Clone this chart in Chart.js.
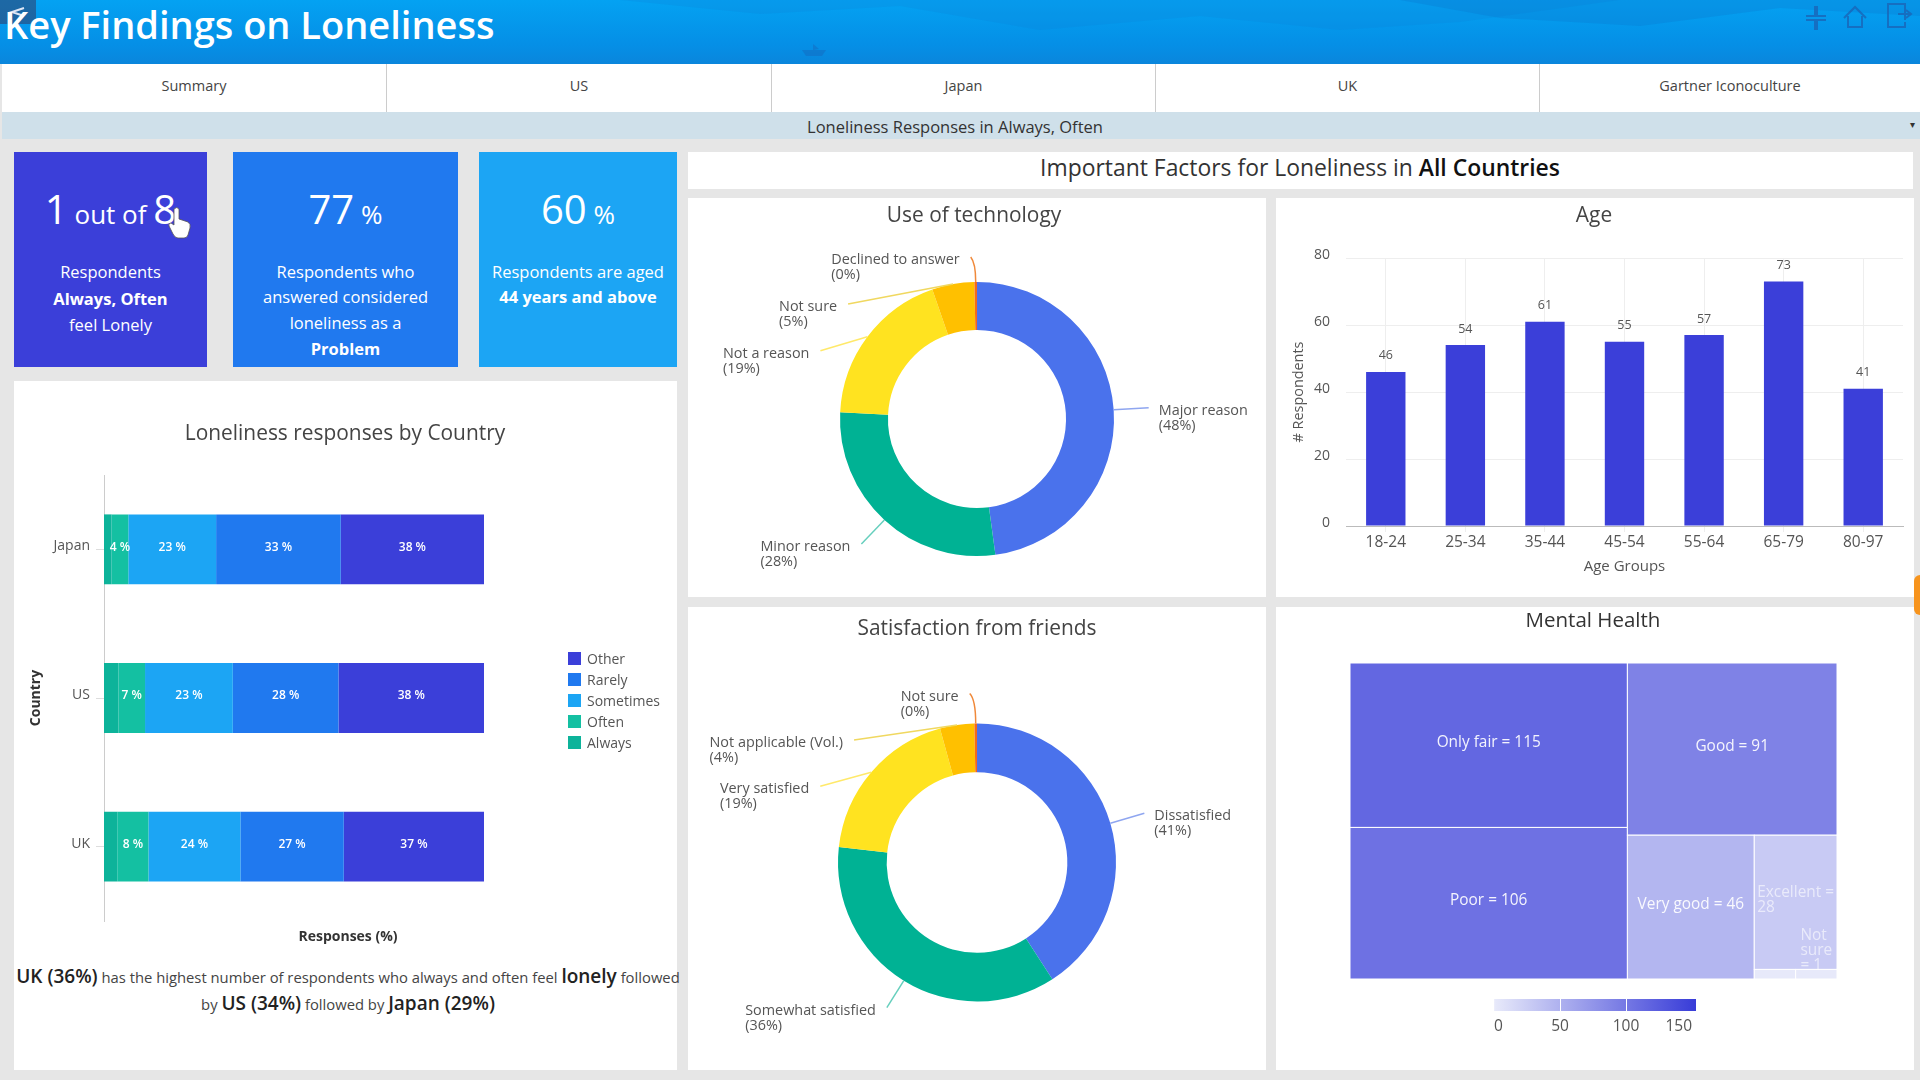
<!DOCTYPE html>
<html>
<head>
<meta charset="utf-8">
<title>Key Findings on Loneliness</title>
<script src="https://cdn.jsdelivr.net/npm/chart.js@4/dist/chart.umd.js"></script>
<style>
html, body { margin: 0; padding: 0; width: 1920px; height: 1080px; overflow: hidden; background: #e6e6e6; font-family: "Open Sans", sans-serif; color: #333; }
.box { position: absolute; }
.panel { position: absolute; background: #fff; }
.center { position: absolute; text-align: center; white-space: nowrap; transform: translate(-50%, -50%); }
canvas { position: absolute; display: block; }
#header { left: 0; top: 0; width: 1920px; height: 64px; background: linear-gradient(180deg, #04a2f2 0%, #058fe6 70%, #0a86dc 100%); overflow: hidden; }
#pageTitle { left: 4px; top: 24px; font-size: 38px; font-weight: 600; color: #fff; white-space: nowrap; transform: translateY(-50%); position: absolute; }
#tabs { left: 2px; top: 64px; width: 1918px; height: 48px; background: #fff; }
.tab { position: absolute; top: 0; height: 48px; line-height: 44px; text-align: center; font-size: 14.5px; color: #444; border-right: 1px solid #ccc; box-sizing: border-box; }
#filter { left: 2px; top: 112px; width: 1918px; height: 27px; background: #cfe0ea; }
.card { position: absolute; top: 152px; height: 215px; color: #fff; }
.cardLine { position: absolute; left: 50%; transform: translate(-50%, -50%); white-space: nowrap; font-size: 16.5px; }
.big { font-size: 40px; }
.small { font-size: 26px; }
.chartTitle { font-size: 20.9px; color: #444; }
.legendRow { position: absolute; left: 568px; font-size: 14px; color: #555; height: 14px; line-height: 14px; }
.legendRow i { position: absolute; left: 0; top: 0; width: 13px; height: 13px; }
.legendRow span { position: absolute; left: 19px; white-space: nowrap; }
#note { left: 348px; top: 990px; font-size: 14.8px; line-height: 26px; color: #444; width: 670px; white-space: normal; }
#note b { font-size: 19px; font-weight: 600; color: #222; }
</style>
</head>
<body>

<div class="box" id="header">
  <svg width="1920" height="64" style="position:absolute;left:0;top:0">
    <polygon points="620,0 760,14 900,6 1040,30 1200,16 1340,30 1460,22 1620,0" fill="#0f7fd6" opacity="0.22"/>
    <polygon points="1400,0 1500,18 1640,26 1780,8 1920,16 1920,0" fill="#0b6fc8" opacity="0.25"/>
    <rect x="0" y="0" width="36" height="24" fill="#333a66" opacity="0.55"/>
    <path d="M24 8 L12 12 L24 16" fill="none" stroke="#dfe6f5" stroke-width="2"/>
    <g fill="none" stroke="#1a66b8" stroke-width="2" opacity="0.8">
      <path d="M1806 16 H1815 V6 M1826 16 H1817 V6 M1806 20 H1815 V30 M1826 20 H1817 V30"/>
      <path d="M1844 18 L1855 7 L1866 18 M1848 16 V27 H1862 V16"/>
      <path d="M1905 20 V4 H1888 V27 H1905 V22 M1898 14 H1910 M1906 10 L1911 14 L1906 18"/>
    </g>
    <path d="M802 50 h24 l-4 6 h-16 z M813 50 v-6 l6 5 z" fill="#1370c4" opacity="0.6"/>
  </svg>
  <div id="pageTitle">Key Findings on Loneliness</div>
</div>

<div class="box" id="tabs">
  <div class="tab" style="left:0;width:385px">Summary</div>
  <div class="tab" style="left:385px;width:385px">US</div>
  <div class="tab" style="left:770px;width:384px">Japan</div>
  <div class="tab" style="left:1154px;width:384px">UK</div>
  <div class="tab" style="left:1538px;width:380px;border:0">Gartner Iconoculture</div>
</div>

<div class="box" id="filter"></div>
<div class="center" style="left:955px;top:126px;font-size:16.5px;color:#333">Loneliness Responses in Always, Often</div>
<div class="center" style="left:1912px;top:124px;font-size:10px;color:#333">&#9662;</div>

<div class="card" style="left:14px;width:193px;background:#3b3fd9">
  <div class="cardLine" style="top:56px"><span class="big">1</span><span class="small"> out of </span><span class="big">8</span></div>
  <div class="cardLine" style="top:119px">Respondents</div>
  <div class="cardLine" style="top:146px;font-weight:700">Always, Often</div>
  <div class="cardLine" style="top:172px">feel Lonely</div>
</div>
<svg class="box" style="left:168px;top:205px" width="26" height="36">
  <path d="M6 4 q3 -3 5 0 v10 l9 3 q3 2 2 6 l-2 7 q-1 3 -4 3 h-6 q-3 0 -5 -4 l-4 -8 q-1 -3 2 -3 l3 2 z" fill="#fff" stroke="#555" stroke-width="0.8"/>
</svg>
<div class="card" style="left:233px;width:225px;background:#2079ef">
  <div class="cardLine" style="top:56px"><span class="big">77</span><span class="small"> %</span></div>
  <div class="cardLine" style="top:119px">Respondents who</div>
  <div class="cardLine" style="top:144px">answered considered</div>
  <div class="cardLine" style="top:170px">loneliness as a</div>
  <div class="cardLine" style="top:196px;font-weight:700">Problem</div>
</div>
<div class="card" style="left:479px;width:198px;background:#1ca5f4">
  <div class="cardLine" style="top:56px"><span class="big">60</span><span class="small"> %</span></div>
  <div class="cardLine" style="top:119px">Respondents are aged</div>
  <div class="cardLine" style="top:144px;font-weight:700">44 years and above</div>
</div>

<div class="panel" style="left:14px;top:381px;width:663px;height:689px"></div>
<div class="panel" style="left:688px;top:152px;width:1225px;height:37px"></div>
<div class="panel" style="left:688px;top:198px;width:578px;height:399px"></div>
<div class="panel" style="left:1276px;top:198px;width:638px;height:399px"></div>
<div class="panel" style="left:688px;top:607px;width:578px;height:463px"></div>
<div class="panel" style="left:1276px;top:607px;width:638px;height:463px"></div>
<div class="box" style="left:1914px;top:575px;width:6px;height:40px;background:#f7941d;border-radius:6px 0 0 6px"></div>

<canvas id="countryChart" width="663" height="579" style="left:14px;top:381px"></canvas>
<canvas id="techChart" width="578" height="399" style="left:688px;top:198px"></canvas>
<canvas id="ageChart" width="638" height="399" style="left:1276px;top:198px"></canvas>
<canvas id="friendsChart" width="578" height="463" style="left:688px;top:607px"></canvas>
<canvas id="healthChart" width="638" height="383" style="left:1276px;top:607px"></canvas>
<canvas id="scaleChart" width="230" height="44" style="left:1480px;top:992px"></canvas>

<div class="center chartTitle" style="left:345px;top:432px">Loneliness responses by Country</div>
<div class="center" style="left:1300px;top:167px;font-size:22.9px;color:#333">Important Factors for Loneliness in <b style="color:#111;font-weight:600">All Countries</b></div>
<div class="center chartTitle" style="left:974px;top:214px">Use of technology</div>
<div class="center chartTitle" style="left:1594px;top:214px">Age</div>
<div class="center chartTitle" style="left:977px;top:627px">Satisfaction from friends</div>
<div class="center chartTitle" style="left:1593px;top:619px;color:#333;font-size:20.5px">Mental Health</div>
<div class="center" style="left:348px;top:935px;font-size:14px;font-weight:700;color:#333">Responses (%)</div>
<div class="center" id="note"><b>UK (36%)</b> has the highest number of respondents who always and often feel <b>lonely</b> followed by <b>US (34%)</b> followed by <b>Japan (29%)</b></div>
<div id="legend"></div>

<script>
/* ---------------------------------------------------
   Data
----------------------------------------------------- */
var countries = ["Japan", "US", "UK"];
var responseNames = ["Always", "Often", "Sometimes", "Rarely", "Other"];
var alwaysValues = [2, 3.8, 3.5];
var oftenValues = [4.4, 7, 8.2];
var sometimesValues = [23.1, 23.1, 24.2];
var rarelyValues = [32.8, 27.8, 27.2];
var otherValues = [37.7, 38.3, 36.9];
var responseColors = ["#0db39a", "#14c0a2", "#1ca5f4", "#2079ef", "#3b3fd9"];

var techLabels = ["Major reason", "Minor reason", "Not a reason", "Not sure", "Declined to answer"];
var techValues = [48, 28, 19, 5, 0.3];

var friendLabels = ["Dissatisfied", "Somewhat satisfied", "Very satisfied", "Not applicable (Vol.)", "Not sure"];
var friendValues = [41, 36, 19, 4, 0.3];

var ageGroups = ["18-24", "25-34", "35-44", "45-54", "55-64", "65-79", "80-97"];
var ageValues = [46, 54, 61, 55, 57, 73, 41];
var ageTicks = [0, 20, 40, 60, 80];

// the smallest cell carries no label in the picture
var healthLabels = ["Only fair", "Poor", "Good", "Very good", "Excellent", "", "Not sure"];
var healthValues = [115, 106, 91, 46, 28, 1, 1];
var scaleTicks = [0, 50, 100, 150];

var donutColors = ["#4a72ec", "#00b294", "#ffe320", "#ffc000", "#f26a1b"];
var leaderColors = ["#8fa6f0", "#66cfbd", "#ffe96a", "#f0d860", "#f0893a"];

Chart.defaults.font.family = '"Open Sans", sans-serif';
Chart.defaults.animation = false;
Chart.defaults.responsive = false;
Chart.defaults.plugins.legend.display = false;
Chart.defaults.plugins.tooltip.enabled = false;

/* ---------------------------------------------------
   Stacked bars by country
----------------------------------------------------- */
var stackLabels = {
	id: "stackLabels",
	afterDatasetsDraw: function (chart) {
		var ctx = chart.ctx;
		ctx.save();
		ctx.fillStyle = "#fff";
		ctx.font = '600 12px "Open Sans"';
		ctx.textAlign = "center";
		ctx.textBaseline = "middle";
		for (var d = 1; d < chart.data.datasets.length; d++) {
			var bars = chart.getDatasetMeta(d).data;
			for (var i = 0; i < bars.length; i++) {
				var mid = (bars[i].x + bars[i].base) / 2;
				ctx.fillText(Math.round(chart.data.datasets[d].data[i]) + " %", mid, bars[i].y - 2);
			}
		}
		ctx.restore();
	}
};

var responseSeries = [alwaysValues, oftenValues, sometimesValues, rarelyValues, otherValues];
var countrySets = [];
for (var s = 0; s < responseNames.length; s++) {
	countrySets.push({
		label: responseNames[s],
		data: responseSeries[s],
		backgroundColor: responseColors[s],
		barPercentage: 0.47,
		categoryPercentage: 1
	});
}
new Chart(document.getElementById("countryChart"), {
	type: "bar",
	data: { labels: countries, datasets: countrySets },
	plugins: [stackLabels],
	options: {
		indexAxis: "y",
		layout: { padding: { top: 94, right: 193, bottom: 39 } },
		scales: {
			x: { display: false, stacked: true, min: 0, max: 100 },
			y: {
				stacked: true,
				afterFit: function (scale) { scale.width = 90; },
				border: { color: "#ccc" },
				grid: { offset: false, drawOnChartArea: false, tickLength: 8, color: "#ddd" },
				ticks: { color: "#555", font: { size: 14 }, padding: 6, labelOffset: -3 },
				title: { display: true, text: "Country", color: "#333", font: { size: 14, weight: "700" }, padding: { top: 14, bottom: 0 } }
			}
		}
	}
});

// legend is listed top down, last series first
var legendHtml = "";
for (var l = responseNames.length - 1; l >= 0; l--) {
	var rowTop = 652 + (responseNames.length - 1 - l) * 20.9;
	legendHtml += '<div class="legendRow" style="top:' + rowTop + 'px"><i style="background:' + responseColors[l] + '"></i><span>' + responseNames[l] + "</span></div>";
}
document.getElementById("legend").innerHTML = legendHtml;

/* ---------------------------------------------------
   Doughnut charts
----------------------------------------------------- */
var calloutLabels = {
	id: "calloutLabels",
	afterDatasetsDraw: function (chart) {
		var ctx = chart.ctx;
		var arcs = chart.getDatasetMeta(0).data;
		var leaders = chart.options.plugins.calloutLabels.leaders;
		ctx.save();
		ctx.font = '14.4px "Open Sans"';
		ctx.textBaseline = "middle";
		for (var i = 0; i < arcs.length; i++) {
			var arc = arcs[i];
			var angle = (arc.startAngle + arc.endAngle) / 2;
			var sx = arc.x + Math.cos(angle) * arc.outerRadius;
			var sy = arc.y + Math.sin(angle) * arc.outerRadius;
			var ex = sx + leaders[i][0];
			var ey = sy + leaders[i][1];
			ctx.strokeStyle = leaderColors[i];
			ctx.lineWidth = 1.5;
			ctx.beginPath();
			ctx.moveTo(sx, sy);
			if (Math.abs(leaders[i][0]) < 10) {
				ctx.quadraticCurveTo(sx, ey + 6, ex, ey);
			} else {
				ctx.lineTo(ex, ey);
			}
			ctx.stroke();

			var name = chart.data.labels[i];
			var tx = ex + 10;
			if (leaders[i][0] < 0) {
				tx = ex - 11 - ctx.measureText(name).width;
			}
			ctx.fillStyle = "#555";
			ctx.textAlign = "left";
			ctx.fillText(name, tx, ey + 3);
			ctx.fillText("(" + Math.round(chart.data.datasets[0].data[i]) + "%)", tx, ey + 18);
		}
		ctx.restore();
	}
};

function createDonut(id, names, values, padding, leaders)
{
	new Chart(document.getElementById(id), {
		type: "doughnut",
		data: {
			labels: names,
			datasets: [{ data: values, backgroundColor: donutColors, borderWidth: 0 }]
		},
		plugins: [calloutLabels],
		options: {
			cutout: "65%",
			layout: { padding: padding },
			plugins: { calloutLabels: { leaders: leaders } }
		}
	});
}
createDonut("techChart", techLabels, techValues,
	{ left: 152, right: 152, top: 84, bottom: 41 },
	[[35, -2], [-23, 24], [-47, 14], [-105, 20], [-5, -25]]);
createDonut("friendsChart", friendLabels, friendValues,
	{ left: 150, right: 150, top: 116, bottom: 68 },
	[[34, -10], [-17, 27], [-51, 14], [-103, 15], [-6, -30]]);

/* ---------------------------------------------------
   Age bars
----------------------------------------------------- */
var barValueLabels = {
	id: "barValueLabels",
	afterDatasetsDraw: function (chart) {
		var ctx = chart.ctx;
		var bars = chart.getDatasetMeta(0).data;
		ctx.save();
		ctx.fillStyle = "#555";
		ctx.font = '12.5px "Open Sans"';
		ctx.textAlign = "center";
		ctx.textBaseline = "middle";
		for (var i = 0; i < bars.length; i++) {
			ctx.fillText(String(chart.data.datasets[0].data[i]), bars[i].x, bars[i].y - 16);
		}
		ctx.restore();
	}
};
new Chart(document.getElementById("ageChart"), {
	type: "bar",
	data: {
		labels: ageGroups,
		datasets: [{ data: ageValues, backgroundColor: "#3b3fd9", barPercentage: 0.495, categoryPercentage: 1 }]
	},
	plugins: [barValueLabels],
	options: {
		layout: { padding: { top: 60, right: 11, bottom: 17 } },
		scales: {
			x: {
				afterFit: function (scale) { scale.height = 54; },
				border: { color: "#bbb" },
				grid: { offset: false, color: "#eee", tickLength: 6 },
				ticks: { color: "#555", font: { size: 15.5 }, padding: 1 },
				title: { display: true, text: "Age Groups", color: "#555", font: { size: 15 }, padding: { top: 6 } }
			},
			y: {
				min: 0,
				max: 80,
				afterBuildTicks: function (scale) {
					scale.ticks = ageTicks.map(function (v) { return { value: v }; });
				},
				afterFit: function (scale) { scale.width = 70; },
				border: { display: false },
				grid: { color: "#eee", drawTicks: false },
				ticks: { color: "#555", font: { size: 14 }, padding: 16, labelOffset: -3 },
				title: { display: true, text: "# Respondents", color: "#555", font: { size: 14.4 }, padding: { top: 14, bottom: 0 } }
			}
		}
	}
});

/* ---------------------------------------------------
   Mental health treemap
----------------------------------------------------- */
// split tree: "h" cuts left/right, "v" cuts top/bottom, numbers index healthValues
var healthTree = ["h", ["v", 0, 1], ["v", 2, ["h", 3, ["v", 4, ["h", 5, 6]]]]];

function treeTotal(node)
{
	if (typeof node === "number") return healthValues[node];
	return treeTotal(node[1]) + treeTotal(node[2]);
}
function layoutTree(node, x0, y0, x1, y1, cells)
{
	if (typeof node === "number") {
		cells[node] = { x0: x0, y0: y0, x1: x1, y1: y1 };
		return;
	}
	var share = treeTotal(node[1]) / treeTotal(node);
	if (node[0] === "h") {
		var xm = x0 + (x1 - x0) * share;
		layoutTree(node[1], x0, y0, xm, y1, cells);
		layoutTree(node[2], xm, y0, x1, y1, cells);
	} else {
		var ym = y0 + (y1 - y0) * share;
		layoutTree(node[1], x0, y0, x1, ym, cells);
		layoutTree(node[2], x0, ym, x1, y1, cells);
	}
}
function healthColor(v)
{
	var t = v / 150;
	return "rgb(" + Math.round(232 - 173 * t) + "," + Math.round(234 - 171 * t) + "," + Math.round(250 - 33 * t) + ")";
}
// greedy word wrap to the width of a cell
function wrapLabel(ctx, text, width)
{
	var words = text.split(" ");
	var lines = [];
	var line = "";
	for (var w = 0; w < words.length; w++) {
		var next = line ? line + " " + words[w] : words[w];
		if (line && ctx.measureText(next).width > width) {
			lines.push(line);
			line = words[w];
		} else {
			line = next;
		}
	}
	lines.push(line);
	return lines;
}

var healthCells = [];
layoutTree(healthTree, 0, 0, 1, 1, healthCells);

var treemapCells = {
	id: "treemapCells",
	afterDatasetsDraw: function (chart) {
		var ctx = chart.ctx;
		var xs = chart.scales.x;
		var ys = chart.scales.y;
		ctx.save();
		ctx.font = '15.4px "Open Sans"';
		ctx.textBaseline = "middle";
		ctx.textAlign = "left";
		for (var i = 0; i < healthCells.length; i++) {
			var left = xs.getPixelForValue(healthCells[i].x0);
			var right = xs.getPixelForValue(healthCells[i].x1);
			var top = ys.getPixelForValue(healthCells[i].y0);
			var bottom = ys.getPixelForValue(healthCells[i].y1);
			ctx.fillStyle = healthColor(healthValues[i]);
			ctx.fillRect(left, top, right - left, bottom - top);
			ctx.strokeStyle = "#fff";
			ctx.lineWidth = 1;
			ctx.strokeRect(left, top, right - left, bottom - top);
		}
		for (var c = 0; c < healthCells.length; c++) {
			if (!healthLabels[c]) continue;
			var cl = xs.getPixelForValue(healthCells[c].x0);
			var cr = xs.getPixelForValue(healthCells[c].x1);
			var ct = ys.getPixelForValue(healthCells[c].y0);
			var cb = ys.getPixelForValue(healthCells[c].y1);
			var lines = wrapLabel(ctx, healthLabels[c] + " = " + healthValues[c], cr - cl - 4);
			var wide = 0;
			for (var m = 0; m < lines.length; m++) {
				wide = Math.max(wide, ctx.measureText(lines[m]).width);
			}
			var blockH = lines.length * 15;
			var ty = (ct + cb) / 2 - blockH / 2 + 5;
			if (blockH > cb - ct) {
				ty = cb - blockH + 2;
			}
			ctx.fillStyle = healthValues[c] > 40 ? "rgba(255,255,255,0.92)" : "rgba(255,255,255,0.6)";
			for (var n = 0; n < lines.length; n++) {
				ctx.fillText(lines[n], (cl + cr) / 2 - wide / 2, ty + n * 15);
			}
		}
		ctx.restore();
	}
};

new Chart(document.getElementById("healthChart"), {
	type: "scatter",
	data: {
		datasets: [{
			data: healthCells.map(function (c) { return { x: (c.x0 + c.x1) / 2, y: (c.y0 + c.y1) / 2 }; }),
			pointRadius: 0
		}]
	},
	plugins: [treemapCells],
	options: {
		layout: { padding: { left: 74, right: 77, top: 56, bottom: 11 } },
		scales: {
			x: { display: false, min: 0, max: 1 },
			y: { display: false, min: 0, max: 1, reverse: true }
		}
	}
});

// colour scale under the treemap
new Chart(document.getElementById("scaleChart"), {
	type: "bar",
	data: {
		labels: ["scale"],
		datasets: [{
			data: [153],
			barPercentage: 1,
			categoryPercentage: 1,
			backgroundColor: function (c) {
				var area = c.chart.chartArea;
				if (!area) return "#3b3fd9";
				var g = c.chart.ctx.createLinearGradient(area.left, 0, area.right, 0);
				g.addColorStop(0, healthColor(0));
				g.addColorStop(1, healthColor(153));
				return g;
			}
		}]
	},
	options: {
		indexAxis: "y",
		layout: { padding: { left: 14, right: 14, top: 7 } },
		scales: {
			y: { display: false },
			x: {
				min: 0,
				max: 153,
				afterBuildTicks: function (scale) {
					scale.ticks = scaleTicks.map(function (v) { return { value: v }; });
				},
				afterFit: function (scale) { scale.height = 25; },
				border: { display: false },
				grid: {
					z: 1,
					drawTicks: false,
					color: function (c) {
						var v = c.tick.value;
						return v > 0 && v < 150 ? "#fff" : "rgba(255,255,255,0)";
					}
				},
				ticks: { color: "#555", font: { size: 15.5 }, padding: 6, align: "inner", maxRotation: 0, autoSkip: false }
			}
		}
	}
});
</script>
</body>
</html>
